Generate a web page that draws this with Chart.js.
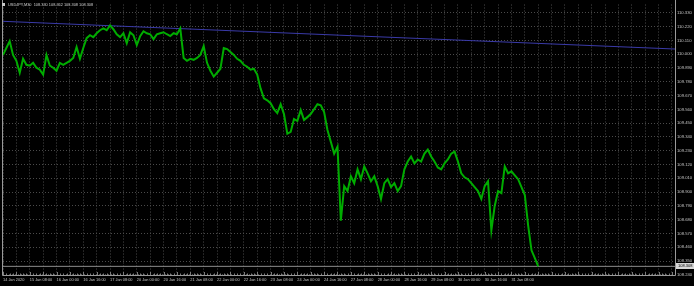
<!DOCTYPE html>
<html>
<head>
<meta charset="utf-8">
<script src="https://cdn.jsdelivr.net/npm/chart.js@4"></script>
<style>
  html, body { margin: 0; padding: 0; background: #000; }
  canvas { display: block; }
</style>
</head>
<body>
<canvas id="chart" width="694" height="286"></canvas>
<script>
// USDJPY M30, one value every 4 bars (2 hours), starting 14 Jan 16:00
const closes = [
  109.994, 110.049, 110.104, 109.994, 109.947, 109.852, 109.963, 109.915, 109.908, 109.931,
  109.892, 109.876, 109.837, 109.994, 109.908, 109.892, 109.868, 109.931, 109.915, 109.931,
  109.947, 109.970, 110.057, 109.963, 110.049, 110.128, 110.151, 110.136, 110.167, 110.191,
  110.206, 110.191, 110.230, 110.199, 110.159, 110.136, 110.167, 110.088, 110.175, 110.151,
  110.073, 110.144, 110.183, 110.167, 110.159, 110.120, 110.159, 110.167, 110.175, 110.159,
  110.144, 110.167, 110.159, 110.206, 109.970, 109.947, 109.963, 109.955, 109.970, 109.994,
  110.065, 109.931, 109.868, 109.821, 109.852, 109.884, 110.049, 110.041, 110.018, 109.994,
  109.963, 109.947, 109.915, 109.900, 109.876, 109.884, 109.837, 109.727, 109.648, 109.632,
  109.609, 109.561, 109.530, 109.601, 109.522, 109.365, 109.380, 109.483, 109.467, 109.554,
  109.475, 109.498, 109.522, 109.561, 109.601, 109.593, 109.538, 109.396, 109.302, 109.207,
  109.262, 108.672, 108.948, 108.908, 109.026, 108.971, 109.081, 109.003, 109.105, 109.050,
  108.987, 109.026, 108.948, 108.845, 108.971, 109.003, 108.940, 108.971, 108.908, 108.948,
  109.081, 109.144, 109.184, 109.129, 109.160, 109.144, 109.207, 109.239, 109.184, 109.144,
  109.097, 109.081, 109.129, 109.160, 109.207, 109.223, 109.144, 109.050, 109.018, 109.003,
  108.971, 108.940, 108.908, 108.845, 108.948, 108.987, 108.594, 108.790, 108.908, 108.892,
  109.105, 109.050, 109.066, 109.034, 109.003, 108.940, 108.877, 108.633, 108.436, 108.373,
  108.308
];
const barsPerPoint = 4;

const timeLabels = [
  "14 Jan 2020", "15 Jan 08:00", "16 Jan 00:00", "16 Jan 16:00", "17 Jan 08:00",
  "20 Jan 00:00", "20 Jan 16:00", "21 Jan 08:00", "22 Jan 00:00", "22 Jan 16:00",
  "23 Jan 08:00", "24 Jan 00:00", "24 Jan 16:00", "27 Jan 08:00", "28 Jan 00:00",
  "28 Jan 16:00", "29 Jan 08:00", "30 Jan 00:00", "30 Jan 16:00", "31 Jan 08:00"
];
const barsPerLabel = 32;

const priceTicks = [
  108.240, 108.350, 108.460, 108.570, 108.680, 108.790, 108.900, 109.010, 109.120, 109.230,
  109.340, 109.450, 109.560, 109.670, 109.780, 109.890, 110.000, 110.110, 110.220, 110.330
];

// trend line anchors (bar index, price)
const trendX = [0, 804];
const trendY = [110.262, 110.041];

const title = "USDJPY,M30  108.330 108.362 108.308 108.308";
const lastPrice = closes[closes.length - 1];

const FONT = "'Liberation Sans', Arial, sans-serif";

const mtPlugin = {
  id: 'mt',
  beforeDraw(chart) {
    const ctx = chart.ctx;
    ctx.save();
    ctx.fillStyle = '#000';
    ctx.fillRect(0, 0, chart.width, chart.height);
    ctx.restore();
  },
  afterDraw(chart) {
    const ctx = chart.ctx;
    const a = chart.chartArea;
    const x = chart.scales.x, y = chart.scales.y;
    ctx.save();
    // frame
    ctx.strokeStyle = '#9a9a9a';
    ctx.lineWidth = 1;
    ctx.beginPath();
    ctx.moveTo(a.left - 0.5, 0);
    ctx.lineTo(a.left - 0.5, a.bottom + 0.5);
    ctx.lineTo(a.right + 0.5, a.bottom + 0.5);
    ctx.lineTo(a.right + 0.5, 0);
    ctx.stroke();
    // small time ticks
    ctx.strokeStyle = '#7a7a7a';
    ctx.beginPath();
    for (let b = 0; b <= x.max; b += barsPerPoint) {
      const px = Math.round(x.getPixelForValue(b)) + 0.5;
      const len = b % 16 === 0 ? 3 : 1.5;
      ctx.moveTo(px, a.bottom);
      ctx.lineTo(px, a.bottom - len);
    }
    ctx.stroke();
    // bid price box
    const py = Math.round(y.getPixelForValue(lastPrice));
    ctx.fillStyle = '#d8d8d8';
    ctx.fillRect(a.right + 1, py - 3, 19, 6);
    ctx.fillStyle = '#000';
    ctx.font = '4px ' + FONT;
    ctx.textBaseline = 'middle';
    ctx.fillText(lastPrice.toFixed(3), a.right + 3, py + 0.3);
    // title
    ctx.fillStyle = '#c8c8c8';
    ctx.fillRect(2, 3, 3, 3);
    ctx.fillStyle = '#cfcfcf';
    ctx.font = '3.9px ' + FONT;
    ctx.textBaseline = 'middle';
    ctx.fillText(title, 8, 4.5);
    ctx.restore();
  }
};

new Chart(document.getElementById('chart'), {
  type: 'line',
  data: {
    datasets: [
      {
        data: closes.map((v, i) => ({ x: i * barsPerPoint, y: v })),
        borderColor: 'rgb(0,172,0)',
        borderWidth: 2,
        pointRadius: 0,
        tension: 0,
        order: 1
      },
      {
        data: trendX.map((v, i) => ({ x: v, y: trendY[i] })),
        borderColor: '#3a3aa8',
        borderWidth: 1,
        pointRadius: 0,
        order: 2
      },
      {
        data: [{ x: 0, y: lastPrice }, { x: 804, y: lastPrice }],
        borderColor: '#8c8c8c',
        borderWidth: 1,
        pointRadius: 0,
        order: 3
      }
    ]
  },
  options: {
    responsive: false,
    animation: false,
    devicePixelRatio: 1,
    layout: { padding: { left: 1, top: 1, right: 0, bottom: 0 } },
    plugins: { legend: { display: false }, tooltip: { enabled: false } },
    scales: {
      x: {
        type: 'linear',
        min: 0,
        max: 803.6,
        afterFit: s => { s.height = 11; },
        afterBuildTicks: s => {
          const t = [];
          for (let b = 0; b <= 800; b += 16) t.push({ value: b });
          s.ticks = t;
        },
        grid: { color: '#4a4a4a', drawTicks: false, lineWidth: 1 },
        border: { display: false, dash: [1, 2] },
        ticks: {
          autoSkip: false,
          maxRotation: 0,
          minRotation: 0,
          align: 'start',
          padding: 3,
          color: '#c4c4c4',
          font: { family: FONT, size: 3.9 },
          callback: v => (v % barsPerLabel === 0 && timeLabels[v / barsPerLabel]) ? timeLabels[v / barsPerLabel] : ''
        }
      },
      y: {
        position: 'right',
        min: 108.239,
        max: 110.396,
        afterFit: s => { s.width = 19; },
        afterBuildTicks: s => { s.ticks = priceTicks.map(v => ({ value: v })); },
        grid: { color: '#4a4a4a', drawTicks: false, lineWidth: 1 },
        border: { display: false, dash: [1, 2] },
        ticks: {
          padding: 2,
          color: '#c4c4c4',
          font: { family: FONT, size: 4.2 },
          callback: v => v.toFixed(3)
        }
      }
    }
  },
  plugins: [mtPlugin]
});
</script>
</body>
</html>
